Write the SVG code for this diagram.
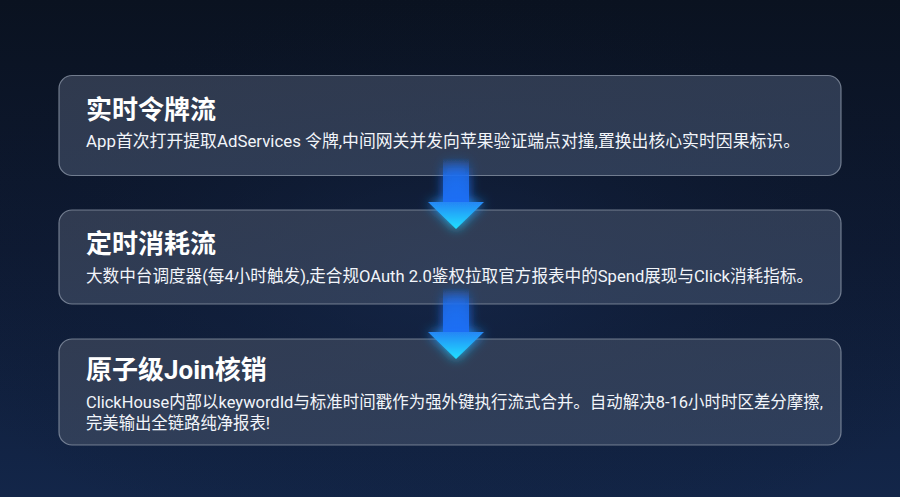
<svg xmlns="http://www.w3.org/2000/svg" width="900" height="497" viewBox="0 0 900 497">
  <defs>
    <linearGradient id="bg" x1="0" y1="0" x2="0" y2="1">
      <stop offset="0" stop-color="#0a1220"/>
      <stop offset="0.5" stop-color="#0e1a33"/>
      <stop offset="1" stop-color="#132649"/>
    </linearGradient>
    <radialGradient id="bgglow" cx="0.5" cy="0.55" r="0.6">
      <stop offset="0" stop-color="#1a2e55" stop-opacity="0.5"/>
      <stop offset="1" stop-color="#0a1220" stop-opacity="0"/>
    </radialGradient>
    <linearGradient id="card" x1="0" y1="0" x2="1" y2="1">
      <stop offset="0" stop-color="#3a4459" stop-opacity="0.78"/>
      <stop offset="1" stop-color="#3a4a66" stop-opacity="0.72"/>
    </linearGradient>
    <linearGradient id="shaft" x1="0" y1="0" x2="0" y2="1">
      <stop offset="0" stop-color="#1e6ff0" stop-opacity="0"/>
      <stop offset="0.4" stop-color="#1e6ff0" stop-opacity="0.8"/>
      <stop offset="1" stop-color="#1a6ef5"/>
    </linearGradient>
    <linearGradient id="head" x1="0" y1="0" x2="0" y2="1">
      <stop offset="0" stop-color="#2586f5"/>
      <stop offset="1" stop-color="#1fe0ff"/>
    </linearGradient>
    <filter id="glow" x="-1" y="-1" width="3" height="3">
      <feGaussianBlur stdDeviation="6" result="b"/>
      <feMerge><feMergeNode in="b"/><feMergeNode in="SourceGraphic"/></feMerge>
    </filter>
  </defs>
  <style>
    .card { fill: url(#card); stroke: #8e98aa; stroke-width: 1.2; stroke-opacity: 0.75; }
    .title { font-family: Roboto, "Noto Sans CJK SC", sans-serif; font-weight: 700; font-size: 26px; fill: #ffffff; }
    .body { font-family: Roboto, "Noto Sans CJK SC", sans-serif; font-weight: 400; font-size: 17px; fill: #f2f5fa; }
  </style>
  <rect width="900" height="497" fill="url(#bg)"/>
  <rect width="900" height="497" fill="url(#bgglow)"/>

  <g id="node1">
    <rect class="card" x="59" y="75.5" width="782" height="100" rx="13"/>
    <text class="title" x="86" y="119">实时令牌流</text>
    <text class="body" x="86" y="147" textLength="714" lengthAdjust="spacingAndGlyphs">App首次打开提取AdServices 令牌,中间网关并发向苹果验证端点对撞,置换出核心实时因果标识。</text>
  </g>
  <g id="node2">
    <rect class="card" x="59" y="210" width="782" height="94" rx="13"/>
    <text class="title" x="86" y="253">定时消耗流</text>
    <text class="body" x="86" y="282" textLength="727" lengthAdjust="spacingAndGlyphs">大数中台调度器(每4小时触发),走合规OAuth 2.0鉴权拉取官方报表中的Spend展现与Click消耗指标。</text>
  </g>
  <g id="node3">
    <rect class="card" x="59" y="339" width="782" height="106" rx="13"/>
    <text class="title" x="86" y="379">原子级Join核销</text>
    <text class="body" x="86" y="408" textLength="737" lengthAdjust="spacingAndGlyphs">ClickHouse内部以keywordId与标准时间戳作为强外键执行流式合并。自动解决8-16小时时区差分摩擦,</text>
    <text class="body" x="86" y="429" textLength="184" lengthAdjust="spacingAndGlyphs">完美输出全链路纯净报表!</text>
  </g>

  <g id="connectors" filter="url(#glow)">
    <rect x="443" y="158" width="26" height="45" fill="url(#shaft)"/>
    <polygon points="428,202 484,202 456,229" fill="url(#head)"/>
    <rect x="443" y="288" width="26" height="45" fill="url(#shaft)"/>
    <polygon points="428,332 484,332 456,359" fill="url(#head)"/>
  </g>
</svg>
